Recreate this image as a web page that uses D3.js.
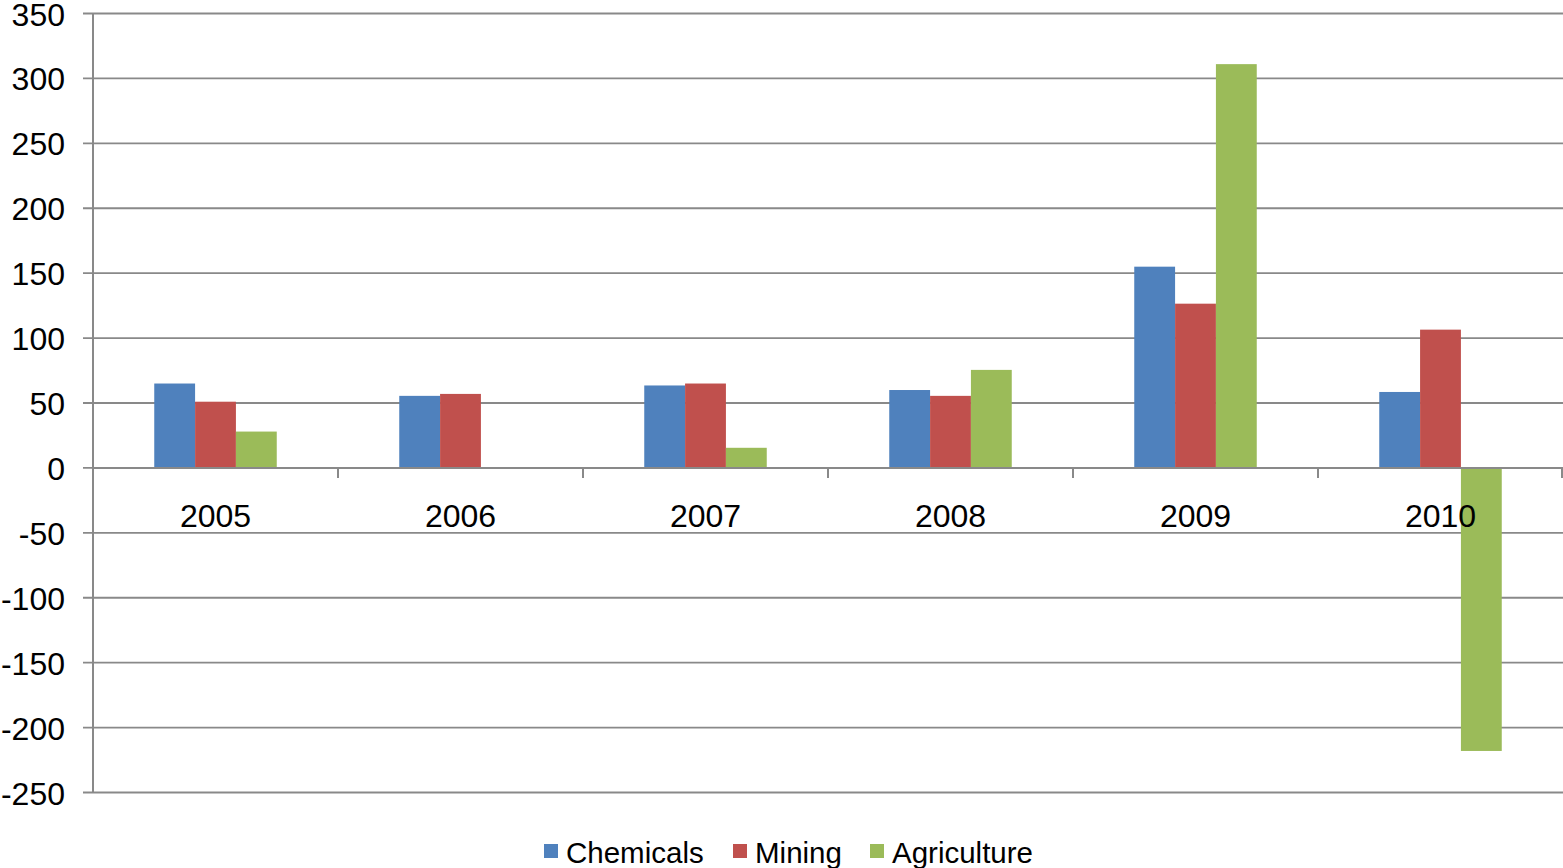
<!DOCTYPE html>
<html>
<head>
<meta charset="utf-8">
<script src="https://cdn.jsdelivr.net/npm/d3@7.9.0/dist/d3.min.js"></script>
<style>
  html, body { margin: 0; padding: 0; background: #fff; }
  svg { display: block; font-family: "Liberation Sans", Arial, sans-serif; }
</style>
</head>
<body>
<svg id="chart" width="1563" height="868"></svg>
<script>
const years = ["2005", "2006", "2007", "2008", "2009", "2010"];
const seriesNames = ["Chemicals", "Mining", "Agriculture"];
const chemicals = [65, 55.5, 63.5, 60, 155, 58.5];
const mining = [51, 57, 65, 55.5, 126.5, 106.5];
const agriculture = [28, 0, 15.5, 75.5, 311, -218];
const yTicks = [350, 300, 250, 200, 150, 100, 50, 0, -50, -100, -150, -200, -250];
const colors = ["#4F81BD", "#C0504D", "#9BBB59"];

const values = [chemicals, mining, agriculture];
const svg = d3.select("#chart");
const plotLeft = 93, plotRight = 1563, plotTop = 13.5, plotBottom = 792.5;

const x = d3.scaleBand().domain(years).range([plotLeft, plotRight]).paddingInner(0.5).paddingOuter(0.25);
const xSub = d3.scaleBand().domain(seriesNames).range([0, x.bandwidth()]);
const y = d3.scaleLinear().domain([-250, 350]).range([plotBottom, plotTop]);

const gridColor = "#898989";

// gridlines + y tick marks
svg.append("g").selectAll("line")
  .data(yTicks)
  .join("line")
  .attr("x1", plotLeft - 10)
  .attr("x2", plotRight)
  .attr("y1", d => y(d))
  .attr("y2", d => y(d))
  .attr("stroke", gridColor)
  .attr("stroke-width", 1.8);

// y axis line
svg.append("line")
  .attr("x1", plotLeft).attr("x2", plotLeft)
  .attr("y1", plotTop).attr("y2", plotBottom)
  .attr("stroke", gridColor).attr("stroke-width", 2);

// y labels
svg.append("g").selectAll("text")
  .data(yTicks)
  .join("text")
  .attr("x", 65)
  .attr("y", d => y(d) + 12)
  .attr("text-anchor", "end")
  .attr("font-size", 32)
  .attr("fill", "#000")
  .text(d => d);

// bars
const groups = svg.append("g").selectAll("g")
  .data(years)
  .join("g")
  .attr("transform", d => `translate(${x(d)},0)`);

groups.selectAll("rect")
  .data((yr, i) => seriesNames.map((s, j) => ({ s, j, v: values[j][i] })))
  .join("rect")
  .attr("x", d => xSub(d.s))
  .attr("width", xSub.bandwidth())
  .attr("y", d => y(Math.max(0, d.v)))
  .attr("height", d => Math.abs(y(d.v) - y(0)))
  .attr("fill", d => colors[d.j]);

// x axis at zero
svg.append("line")
  .attr("x1", plotLeft).attr("x2", plotRight)
  .attr("y1", y(0)).attr("y2", y(0))
  .attr("stroke", gridColor).attr("stroke-width", 2);

// category boundary ticks
const bounds = years.map(d => x(d) - x.step() * 0.25).concat([plotRight - 1]);
svg.append("g").selectAll("line")
  .data(bounds.slice(1))
  .join("line")
  .attr("x1", d => d).attr("x2", d => d)
  .attr("y1", y(0)).attr("y2", y(0) + 10)
  .attr("stroke", gridColor).attr("stroke-width", 2);

// category labels
svg.append("g").selectAll("text")
  .data(years)
  .join("text")
  .attr("x", d => x(d) + x.bandwidth() / 2)
  .attr("y", y(0) + 59)
  .attr("text-anchor", "middle")
  .attr("font-size", 32)
  .attr("fill", "#000")
  .text(d => d);

// legend
const legendX = [544, 733, 870];
const legend = svg.append("g").selectAll("g")
  .data(seriesNames)
  .join("g")
  .attr("transform", (d, i) => `translate(${legendX[i]},0)`);
legend.append("rect")
  .attr("x", 0).attr("y", 844)
  .attr("width", 14).attr("height", 14)
  .attr("fill", (d, i) => colors[i]);
legend.append("text")
  .attr("x", 22).attr("y", 863)
  .attr("font-size", 29.5)
  .attr("fill", "#000")
  .text(d => d);
</script>
</body>
</html>
